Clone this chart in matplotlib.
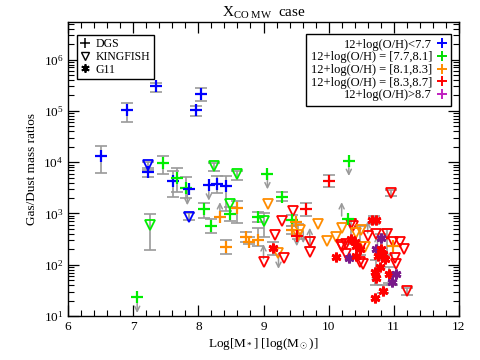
import matplotlib
matplotlib.use("Agg")
import matplotlib.pyplot as plt
from matplotlib.lines import Line2D
import numpy as np

plt.rcParams['font.family'] = ['Liberation Serif', 'DejaVu Serif']
plt.rcParams['mathtext.fontset'] = 'custom'
plt.rcParams['mathtext.rm'] = 'Liberation Serif'
plt.rcParams['mathtext.it'] = 'Liberation Serif:italic'

# metallicity bins -> colours
bin_colors = {'b': '#0000ff', 'g': '#00ee00', 'o': '#ff8c00', 'r': '#ff0000', 'p': '#7a1a8a'}
bin_labels = ['12+log(O/H)<7.7', '12+log(O/H) = [7.7,8.1]', '12+log(O/H) = [8.1,8.3]',
              '12+log(O/H) = [8.3,8.7]', '12+log(O/H)>8.7']
legend_colors = ['#0000ff', '#00dd00', '#ff8c00', '#ff0000', '#c020c0']

# DGS (plus): log M*, log(gas/dust), bin
dgs_mass = [6.51, 6.90, 7.35, 7.96, 8.04, 7.22, 7.46, 7.61, 7.67, 7.81, 7.85, 7.06, 8.16, 8.29,
            8.42, 8.09, 8.19, 8.33, 8.49, 8.60, 8.42, 8.73, 8.77, 8.92, 8.92, 9.06, 9.29, 9.44,
            9.50, 9.43, 9.65, 9.51, 10.01, 10.31, 10.29, 10.99]
dgs_logratio = [4.12, 5.01, 5.48, 5.01, 5.33, 3.80, 3.99, 3.63, 3.70, 3.50, 3.47, 1.37, 3.56, 3.58,
                3.53, 3.08, 2.76, 2.93, 2.99, 3.11, 2.35, 2.54, 2.44, 2.48, 2.94, 3.76, 3.32, 2.88,
                2.84, 2.67, 3.09, 2.57, 3.63, 4.03, 2.90, 2.37]
dgs_bin = ['b', 'b', 'b', 'b', 'b', 'b', 'g', 'b', 'g', 'g', 'b', 'g', 'b', 'b',
           'b', 'g', 'g', 'o', 'g', 'o', 'o', 'o', 'o', 'o', 'g', 'g', 'g', 'g',
           'o', 'o', 'r', 'r', 'r', 'g', 'g', 'o']

# KINGFISH (open down triangles)
kf_mass = [7.23, 7.25, 7.85, 8.24, 8.60, 8.49, 9.07, 9.00, 9.18, 9.28, 9.23, 9.00, 9.32, 9.46,
           9.56, 9.53, 9.83, 9.71, 9.71, 9.98, 10.11, 10.20, 10.37, 10.20, 10.27, 10.95, 10.61,
           10.90, 10.99, 11.09, 11.16, 11.02, 11.04, 11.20, 10.35, 10.42, 10.50, 10.50, 10.48,
           10.53, 10.56, 10.19, 10.27, 10.72]
kf_logratio = [3.94, 2.78, 2.94, 3.92, 3.76, 3.19, 3.19, 2.86, 2.58, 2.86, 2.22, 2.05, 2.13, 3.05,
               2.68, 2.58, 2.80, 2.44, 2.25, 2.47, 2.54, 2.72, 2.76, 2.34, 2.21, 3.40, 2.57,
               2.60, 2.44, 2.44, 2.31, 2.14, 2.01, 1.49, 2.80, 2.61, 2.67, 2.34, 2.05,
               2.01, 2.34, 2.39, 2.40, 2.60]
kf_bin = ['b', 'g', 'b', 'g', 'g', 'g', 'o', 'g', 'r', 'r', 'o', 'r', 'r', 'r',
          'o', 'o', 'o', 'r', 'r', 'o', 'o', 'o', 'r', 'r', 'r', 'r', 'r',
          'r', 'r', 'r', 'r', 'r', 'r', 'r', 'r', 'o', 'o', 'r', 'r',
          'r', 'o', 'r', 'r', 'r']

# G11 (asterisks)
g11_mass = [9.14, 10.12, 10.32, 10.34, 10.40, 10.42, 10.48, 10.42, 10.66, 10.72, 10.81, 10.72,
            10.81, 10.84, 10.76, 10.86, 10.79, 10.71, 10.93, 11.04, 10.97, 10.73, 10.84, 10.71]
g11_logratio = [2.33, 2.16, 2.13, 2.50, 2.44, 2.37, 2.31, 2.18, 2.88, 2.88, 2.52, 2.31,
                2.31, 2.21, 2.18, 2.12, 1.95, 1.85, 1.82, 1.82, 1.67, 1.75, 1.49, 1.36]
g11_bin = ['r', 'r', 'p', 'r', 'r', 'r', 'r', 'r', 'r', 'r', 'p', 'p',
           'r', 'r', 'r', 'r', 'r', 'r', 'r', 'p', 'p', 'r', 'r', 'r']

# error bars: mass, low, high (log ratio)
err_mass = [6.51, 6.90, 7.35, 7.96, 8.04, 7.22, 7.46, 7.61, 7.67, 7.81, 8.29, 8.42, 8.09, 8.19,
            8.49, 8.60, 8.42, 8.73, 8.77, 8.92, 8.92, 9.29, 9.44, 9.43, 9.65, 10.01, 7.25,
            7.23, 7.85, 8.24, 8.60, 9.00, 9.14, 9.53, 9.71, 10.69, 10.95, 10.84, 10.72, 10.90,
            11.20, 10.93, 10.97, 10.35, 10.48, 10.80]
err_lo = [3.79, 4.78, 5.37, 4.90, 5.20, 3.71, 3.76, 3.32, 3.42, 3.30, 3.39, 3.05, 2.91, 2.62,
          2.86, 2.82, 2.21, 2.45, 2.40, 2.36, 2.83, 3.24, 2.76, 2.60, 2.96, 3.52, 2.29,
          3.85, 2.88, 3.83, 3.66, 2.55, 2.20, 2.50, 2.34, 2.80, 3.35, 1.45, 1.60, 2.20,
          1.42, 1.65, 1.60, 2.40, 2.20, 2.25]
err_hi = [4.32, 5.16, 5.55, 5.10, 5.45, 3.89, 4.12, 3.83, 3.88, 3.71, 3.73, 3.73, 3.21, 2.90,
          3.12, 3.25, 2.49, 2.63, 2.55, 2.71, 3.03, 3.42, 2.97, 2.75, 3.21, 3.75, 2.98,
          4.00, 3.00, 3.98, 3.82, 3.00, 2.45, 2.80, 2.55, 2.96, 3.45, 1.60, 2.10, 2.70,
          1.55, 1.95, 1.85, 2.90, 2.75, 2.60]

# limit arrows: mass, start, end (log ratio)
arrow_mass = [7.06, 7.83, 8.16, 9.06, 9.51, 10.31, 9.23, 8.33, 9.00, 9.71, 10.20, 10.71, 10.75,
              9.61, 10.60]
arrow_from = [1.37, 3.50, 3.56, 3.76, 2.57, 4.03, 2.22, 2.96, 2.12, 2.48, 2.95, 1.62, 2.30,
              2.65, 2.62]
arrow_to = [1.06, 3.16, 3.25, 3.47, 2.36, 3.73, 1.92, 3.22, 2.40, 2.72, 3.22, 1.85, 2.58,
            2.42, 2.85]

gray = '#9a9a9a'

fig = plt.figure(figsize=(4.8, 3.6), dpi=100)
ax = fig.add_axes([0.142, 0.122, 0.814, 0.817])
ax.set_yscale('log')

em = np.array(err_mass)
lo = 10 ** np.array(err_lo)
hi = 10 ** np.array(err_hi)
mid = np.sqrt(lo * hi)
ax.errorbar(em, mid, yerr=[mid - lo, hi - mid], fmt='none', ecolor=gray, elinewidth=1.2,
            capsize=4, capthick=1.2, zorder=1)

for x, y0, y1 in zip(arrow_mass, arrow_from, arrow_to):
    ax.annotate('', xy=(x, 10 ** y1), xytext=(x, 10 ** y0),
                arrowprops=dict(arrowstyle='->', color=gray, lw=1.1, mutation_scale=9,
                                shrinkA=0, shrinkB=0), zorder=2)

for m, r, b in zip(kf_mass, kf_logratio, kf_bin):
    ax.plot(m, 10 ** r, marker='v', ms=6.8, mfc='none', mec=bin_colors[b], mew=1.3,
            linestyle='none', zorder=3)
for m, r, b in zip(g11_mass, g11_logratio, g11_bin):
    ax.plot(m, 10 ** r, marker=(6, 2, 0), ms=7, mec=bin_colors[b], mew=2.0,
            linestyle='none', zorder=4)
for m, r, b in zip(dgs_mass, dgs_logratio, dgs_bin):
    ax.plot(m, 10 ** r, marker='+', ms=8.5, mec=bin_colors[b], mew=1.6,
            linestyle='none', zorder=5)

ax.set_xlim(6, 12)
ax.set_ylim(10, 5.4e6)
ax.set_xticks([6, 7, 8, 9, 10, 11, 12])
ax.set_xticks(np.arange(6, 12.01, 0.2), minor=True)
ax.tick_params(which='both', direction='in', top=True, right=True, labelsize=9.5)
ax.tick_params(which='major', length=8, width=0.9)
ax.tick_params(which='minor', length=4, width=0.8)
for s in ax.spines.values():
    s.set_linewidth(1.0)

ax.set_xlabel(r'Log[M$_*$] [log(M$_\odot$)]', fontsize=9.5, labelpad=2)
ax.set_ylabel('Gas/Dust mass ratios', fontsize=9.5, labelpad=4)
ax.set_title(r'X$_{\rm CO\ MW}$  case', fontsize=11, pad=4)

h1 = [Line2D([], [], marker='+', color='k', ms=7, mew=1.1, ls='none'),
      Line2D([], [], marker='v', mfc='none', mec='k', ms=6, mew=1.0, ls='none'),
      Line2D([], [], marker=(6, 2, 0), color='k', ms=6, mew=1.3, ls='none')]
leg1 = ax.legend(h1, ['DGS', 'KINGFISH', 'G11'], loc='upper left',
                 bbox_to_anchor=(0.022, 0.956), borderaxespad=0, fancybox=False,
                 edgecolor='k', framealpha=1, fontsize=8.5, handlelength=0.8,
                 handletextpad=0.5, labelspacing=0.05, borderpad=0.3)
leg1.get_frame().set_linewidth(1.0)
ax.add_artist(leg1)

h2 = [Line2D([], [], marker='+', color=c, ms=7, mew=1.4, ls='none') for c in legend_colors]
leg2 = ax.legend(h2, bin_labels, loc='upper right', bbox_to_anchor=(0.981, 0.958),
                 borderaxespad=0, fancybox=False, edgecolor='k', framealpha=1,
                 fontsize=9, markerfirst=False, handlelength=0.8, handletextpad=0.4,
                 labelspacing=0.05, borderpad=0.35)
leg2.get_frame().set_linewidth(1.0)

fig.savefig('out.png', dpi=100)
